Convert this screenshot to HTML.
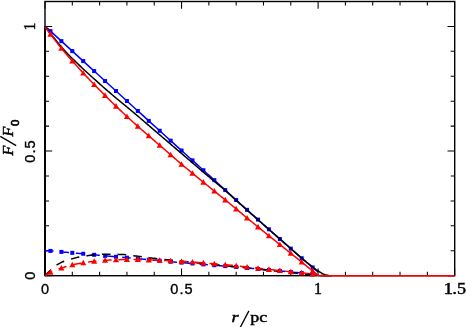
<!DOCTYPE html>
<html><head><meta charset="utf-8"><title>F/F0 vs r/pc</title>
<style>
html,body{margin:0;padding:0;background:#fff;}
body{width:466px;height:327px;overflow:hidden;font-family:"Liberation Sans",sans-serif;}
svg{display:block;filter:blur(0.3px);}
</style></head><body>
<svg width="466" height="327" viewBox="0 0 466 327">
<rect x="45.0" y="1.5" width="409.7" height="274.2" fill="none" stroke="#000" stroke-width="1.4"/>
<path d="M45.00,275.7 v-7.2 M45.00,1.5 v7.2 M72.31,275.7 v-4.0 M72.31,1.5 v4.0 M99.62,275.7 v-4.0 M99.62,1.5 v4.0 M126.93,275.7 v-4.0 M126.93,1.5 v4.0 M154.24,275.7 v-4.0 M154.24,1.5 v4.0 M181.55,275.7 v-7.2 M181.55,1.5 v7.2 M208.86,275.7 v-4.0 M208.86,1.5 v4.0 M236.17,275.7 v-4.0 M236.17,1.5 v4.0 M263.48,275.7 v-4.0 M263.48,1.5 v4.0 M290.79,275.7 v-4.0 M290.79,1.5 v4.0 M318.10,275.7 v-7.2 M318.10,1.5 v7.2 M345.41,275.7 v-4.0 M345.41,1.5 v4.0 M372.72,275.7 v-4.0 M372.72,1.5 v4.0 M400.03,275.7 v-4.0 M400.03,1.5 v4.0 M427.34,275.7 v-4.0 M427.34,1.5 v4.0 M454.65,275.7 v-7.2 M454.65,1.5 v7.2 M45.0,275.70 h7.2 M454.7,275.70 h-7.2 M45.0,250.77 h4.0 M454.7,250.77 h-4.0 M45.0,225.84 h4.0 M454.7,225.84 h-4.0 M45.0,200.91 h4.0 M454.7,200.91 h-4.0 M45.0,175.98 h4.0 M454.7,175.98 h-4.0 M45.0,151.05 h7.2 M454.7,151.05 h-7.2 M45.0,126.12 h4.0 M454.7,126.12 h-4.0 M45.0,101.19 h4.0 M454.7,101.19 h-4.0 M45.0,76.26 h4.0 M454.7,76.26 h-4.0 M45.0,51.33 h4.0 M454.7,51.33 h-4.0 M45.0,26.40 h7.2 M454.7,26.40 h-7.2" stroke="#000" stroke-width="1.05" fill="none"/>
<line x1="45.0" y1="26.4" x2="45.0" y2="275.7" stroke="#000" stroke-width="1.9"/>
<polyline points="45.00,26.15 46.37,27.40 47.73,28.65 49.10,29.90 50.46,31.15 51.83,32.39 53.19,33.64 54.56,34.89 55.92,36.14 57.29,37.39 58.66,38.64 60.02,39.88 61.39,41.13 62.75,42.38 64.12,43.63 65.48,44.88 66.85,46.12 68.21,47.37 69.58,48.62 70.94,49.87 72.31,51.12 73.68,52.36 75.04,53.61 76.41,54.86 77.77,56.11 79.14,57.35 80.50,58.60 81.87,59.85 83.23,61.09 84.60,62.34 85.97,63.59 87.33,64.84 88.70,66.08 90.06,67.33 91.43,68.58 92.79,69.82 94.16,71.07 95.52,72.32 96.89,73.57 98.25,74.81 99.62,76.06 100.99,77.31 102.35,78.55 103.72,79.80 105.08,81.05 106.45,82.29 107.81,83.54 109.18,84.79 110.54,86.03 111.91,87.28 113.28,88.53 114.64,89.77 116.01,91.02 117.37,92.26 118.74,93.51 120.10,94.76 121.47,96.00 122.83,97.25 124.20,98.50 125.56,99.74 126.93,100.99 128.30,102.24 129.66,103.48 131.03,104.73 132.39,105.97 133.76,107.22 135.12,108.46 136.49,109.70 137.85,110.94 139.22,112.19 140.59,113.43 141.95,114.67 143.32,115.91 144.68,117.15 146.05,118.39 147.41,119.63 148.78,120.87 150.14,122.11 151.51,123.35 152.87,124.58 154.24,125.82 155.61,127.06 156.97,128.30 158.34,129.54 159.70,130.77 161.07,132.01 162.43,133.25 163.80,134.48 165.16,135.72 166.53,136.96 167.90,138.19 169.26,139.43 170.63,140.66 171.99,141.90 173.36,143.14 174.72,144.37 176.09,145.61 177.45,146.84 178.82,148.08 180.18,149.32 181.55,150.55 182.92,151.79 184.28,153.02 185.65,154.25 187.01,155.48 188.38,156.72 189.74,157.94 191.11,159.17 192.47,160.40 193.84,161.63 195.21,162.86 196.57,164.09 197.94,165.32 199.30,166.55 200.67,167.78 202.03,169.01 203.40,170.24 204.76,171.47 206.13,172.71 207.49,173.94 208.86,175.18 210.23,176.42 211.59,177.66 212.96,178.90 214.32,180.14 215.69,181.39 217.05,182.63 218.42,183.87 219.78,185.11 221.15,186.36 222.52,187.60 223.88,188.84 225.25,190.09 226.61,191.33 227.98,192.57 229.34,193.81 230.71,195.05 232.07,196.29 233.44,197.53 234.80,198.77 236.17,200.01 237.54,201.25 238.90,202.48 240.27,203.72 241.63,204.94 243.00,206.17 244.36,207.40 245.73,208.62 247.09,209.84 248.46,211.06 249.83,212.28 251.19,213.50 252.56,214.72 253.92,215.93 255.29,217.15 256.65,218.36 258.02,219.58 259.38,220.80 260.75,222.01 262.11,223.23 263.48,224.44 264.85,225.66 266.21,226.88 267.58,228.09 268.94,229.31 270.31,230.52 271.67,231.73 273.04,232.94 274.40,234.16 275.77,235.37 277.13,236.58 278.50,237.79 279.87,239.00 281.23,240.20 282.60,241.41 283.96,242.62 285.33,243.83 286.69,245.03 288.06,246.24 289.42,247.45 290.79,248.65 292.16,249.86 293.52,251.06 294.89,252.27 296.25,253.47 297.62,254.67 298.98,255.87 300.35,257.06 301.71,258.25 303.08,259.43 304.45,260.59 305.81,261.74 307.18,262.89 308.54,264.04 309.91,265.18 311.27,266.32 312.64,267.47 314.00,268.63 315.37,269.78 316.73,270.93 318.10,272.09" fill="none" stroke="#0000ff" stroke-width="1.5" stroke-linejoin="round"/>
<rect x="48.46" y="29.15" width="4.0" height="4.0" fill="#0000ff"/>
<rect x="59.39" y="39.13" width="4.0" height="4.0" fill="#0000ff"/>
<rect x="70.31" y="49.12" width="4.0" height="4.0" fill="#0000ff"/>
<rect x="81.23" y="59.09" width="4.0" height="4.0" fill="#0000ff"/>
<rect x="92.16" y="69.07" width="4.0" height="4.0" fill="#0000ff"/>
<rect x="103.08" y="79.05" width="4.0" height="4.0" fill="#0000ff"/>
<rect x="114.01" y="89.02" width="4.0" height="4.0" fill="#0000ff"/>
<rect x="124.93" y="98.99" width="4.0" height="4.0" fill="#0000ff"/>
<rect x="135.85" y="108.94" width="4.0" height="4.0" fill="#0000ff"/>
<rect x="146.78" y="118.87" width="4.0" height="4.0" fill="#0000ff"/>
<rect x="157.70" y="128.77" width="4.0" height="4.0" fill="#0000ff"/>
<rect x="168.63" y="138.66" width="4.0" height="4.0" fill="#0000ff"/>
<rect x="179.55" y="148.55" width="4.0" height="4.0" fill="#0000ff"/>
<rect x="190.47" y="158.40" width="4.0" height="4.0" fill="#0000ff"/>
<rect x="201.40" y="168.24" width="4.0" height="4.0" fill="#0000ff"/>
<rect x="212.32" y="178.14" width="4.0" height="4.0" fill="#0000ff"/>
<rect x="223.25" y="188.09" width="4.0" height="4.0" fill="#0000ff"/>
<rect x="234.17" y="198.01" width="4.0" height="4.0" fill="#0000ff"/>
<rect x="245.09" y="207.84" width="4.0" height="4.0" fill="#0000ff"/>
<rect x="256.02" y="217.58" width="4.0" height="4.0" fill="#0000ff"/>
<rect x="266.94" y="227.31" width="4.0" height="4.0" fill="#0000ff"/>
<rect x="277.87" y="237.00" width="4.0" height="4.0" fill="#0000ff"/>
<rect x="288.79" y="246.65" width="4.0" height="4.0" fill="#0000ff"/>
<rect x="299.71" y="256.25" width="4.0" height="4.0" fill="#0000ff"/>
<rect x="310.64" y="265.47" width="4.0" height="4.0" fill="#0000ff"/>
<polyline points="45.00,250.60 46.37,250.66 47.73,250.73 49.10,250.81 50.46,250.89 51.83,250.99 53.19,251.11 54.56,251.23 55.92,251.36 57.29,251.50 58.66,251.63 60.02,251.77 61.39,251.89 62.75,252.01 64.12,252.13 65.48,252.25 66.85,252.37 68.21,252.49 69.58,252.61 70.94,252.72 72.31,252.84 73.68,252.95 75.04,253.07 76.41,253.18 77.77,253.29 79.14,253.41 80.50,253.52 81.87,253.64 83.23,253.76 84.60,253.89 85.97,254.01 87.33,254.14 88.70,254.28 90.06,254.41 91.43,254.54 92.79,254.68 94.16,254.81 95.52,254.94 96.89,255.08 98.25,255.22 99.62,255.36 100.99,255.49 102.35,255.63 103.72,255.76 105.08,255.88 106.45,256.00 107.81,256.11 109.18,256.22 110.54,256.32 111.91,256.43 113.28,256.53 114.64,256.64 116.01,256.75 117.37,256.87 118.74,256.98 120.10,257.10 121.47,257.22 122.83,257.34 124.20,257.46 125.56,257.58 126.93,257.70 128.30,257.82 129.66,257.95 131.03,258.07 132.39,258.19 133.76,258.32 135.12,258.44 136.49,258.57 137.85,258.70 139.22,258.83 140.59,258.96 141.95,259.09 143.32,259.22 144.68,259.35 146.05,259.49 147.41,259.62 148.78,259.74 150.14,259.87 151.51,260.00 152.87,260.12 154.24,260.25 155.61,260.37 156.97,260.49 158.34,260.62 159.70,260.74 161.07,260.87 162.43,260.99 163.80,261.12 165.16,261.25 166.53,261.37 167.90,261.50 169.26,261.62 170.63,261.74 171.99,261.85 173.36,261.97 174.72,262.07 176.09,262.18 177.45,262.29 178.82,262.40 180.18,262.50 181.55,262.61 182.92,262.72 184.28,262.83 185.65,262.94 187.01,263.05 188.38,263.16 189.74,263.27 191.11,263.38 192.47,263.48 193.84,263.59 195.21,263.70 196.57,263.81 197.94,263.92 199.30,264.03 200.67,264.14 202.03,264.25 203.40,264.36 204.76,264.47 206.13,264.57 207.49,264.68 208.86,264.79 210.23,264.90 211.59,265.01 212.96,265.12 214.32,265.23 215.69,265.34 217.05,265.45 218.42,265.56 219.78,265.67 221.15,265.77 222.52,265.88 223.88,265.99 225.25,266.10 226.61,266.21 227.98,266.32 229.34,266.42 230.71,266.53 232.07,266.64 233.44,266.75 234.80,266.86 236.17,266.97 237.54,267.09 238.90,267.21 240.27,267.34 241.63,267.46 243.00,267.59 244.36,267.72 245.73,267.85 247.09,267.97 248.46,268.10 249.83,268.22 251.19,268.35 252.56,268.47 253.92,268.59 255.29,268.72 256.65,268.84 258.02,268.97 259.38,269.09 260.75,269.22 262.11,269.34 263.48,269.47 264.85,269.59 266.21,269.72 267.58,269.84 268.94,269.97 270.31,270.09 271.67,270.21 273.04,270.34 274.40,270.46 275.77,270.59 277.13,270.71 278.50,270.84 279.87,270.96 281.23,271.09 282.60,271.22 283.96,271.35 285.33,271.49 286.69,271.62 288.06,271.75 289.42,271.88 290.79,272.01 292.16,272.14 293.52,272.26 294.89,272.38 296.25,272.50 297.62,272.62 298.98,272.74 300.35,272.87 301.71,273.01 303.08,273.15 304.45,273.29 305.81,273.43 307.18,273.58 308.54,273.73 309.91,273.89 311.27,274.07 312.64,274.25 314.00,274.46 315.37,274.69 316.73,274.94 318.10,275.20" fill="none" stroke="#0000ff" stroke-width="1.5" stroke-linejoin="round" stroke-dasharray="8.5 7"/>
<rect x="48.46" y="248.89" width="4.0" height="4.0" fill="#0000ff"/>
<rect x="59.39" y="249.89" width="4.0" height="4.0" fill="#0000ff"/>
<rect x="70.31" y="250.84" width="4.0" height="4.0" fill="#0000ff"/>
<rect x="81.23" y="251.76" width="4.0" height="4.0" fill="#0000ff"/>
<rect x="92.16" y="252.81" width="4.0" height="4.0" fill="#0000ff"/>
<rect x="103.08" y="253.88" width="4.0" height="4.0" fill="#0000ff"/>
<rect x="114.01" y="254.75" width="4.0" height="4.0" fill="#0000ff"/>
<rect x="124.93" y="255.70" width="4.0" height="4.0" fill="#0000ff"/>
<rect x="135.85" y="256.70" width="4.0" height="4.0" fill="#0000ff"/>
<rect x="146.78" y="257.74" width="4.0" height="4.0" fill="#0000ff"/>
<rect x="157.70" y="258.74" width="4.0" height="4.0" fill="#0000ff"/>
<rect x="168.63" y="259.74" width="4.0" height="4.0" fill="#0000ff"/>
<rect x="179.55" y="260.61" width="4.0" height="4.0" fill="#0000ff"/>
<rect x="190.47" y="261.48" width="4.0" height="4.0" fill="#0000ff"/>
<rect x="201.40" y="262.36" width="4.0" height="4.0" fill="#0000ff"/>
<rect x="212.32" y="263.23" width="4.0" height="4.0" fill="#0000ff"/>
<rect x="223.25" y="264.10" width="4.0" height="4.0" fill="#0000ff"/>
<rect x="234.17" y="264.97" width="4.0" height="4.0" fill="#0000ff"/>
<rect x="245.09" y="265.97" width="4.0" height="4.0" fill="#0000ff"/>
<rect x="256.02" y="266.97" width="4.0" height="4.0" fill="#0000ff"/>
<rect x="266.94" y="267.97" width="4.0" height="4.0" fill="#0000ff"/>
<rect x="277.87" y="268.96" width="4.0" height="4.0" fill="#0000ff"/>
<rect x="288.79" y="270.01" width="4.0" height="4.0" fill="#0000ff"/>
<rect x="299.71" y="271.01" width="4.0" height="4.0" fill="#0000ff"/>
<rect x="310.64" y="272.25" width="4.0" height="4.0" fill="#0000ff"/>
<polyline points="45.00,26.40 46.37,28.18 47.73,29.95 49.10,31.70 50.46,33.44 51.83,35.16 53.19,36.87 54.56,38.57 55.92,40.27 57.29,41.95 58.66,43.61 60.02,45.25 61.39,46.84 62.75,48.41 64.12,49.95 65.48,51.46 66.85,52.94 68.21,54.40 69.58,55.82 70.94,57.19 72.31,58.52 73.68,59.83 75.04,61.13 76.41,62.45 77.77,63.78 79.14,65.10 80.50,66.41 81.87,67.71 83.23,69.00 84.60,70.27 85.97,71.53 87.33,72.78 88.70,74.02 90.06,75.26 91.43,76.50 92.79,77.73 94.16,78.96 95.52,80.18 96.89,81.40 98.25,82.62 99.62,83.83 100.99,85.04 102.35,86.24 103.72,87.44 105.08,88.63 106.45,89.82 107.81,91.01 109.18,92.19 110.54,93.36 111.91,94.53 113.28,95.70 114.64,96.86 116.01,98.02 117.37,99.16 118.74,100.28 120.10,101.40 121.47,102.52 122.83,103.63 124.20,104.74 125.56,105.85 126.93,106.96 128.30,108.09 129.66,109.22 131.03,110.36 132.39,111.51 133.76,112.66 135.12,113.81 136.49,114.97 137.85,116.13 139.22,117.29 140.59,118.46 141.95,119.62 143.32,120.79 144.68,121.96 146.05,123.14 147.41,124.31 148.78,125.48 150.14,126.66 151.51,127.83 152.87,129.01 154.24,130.18 155.61,131.35 156.97,132.53 158.34,133.70 159.70,134.87 161.07,136.03 162.43,137.20 163.80,138.36 165.16,139.53 166.53,140.69 167.90,141.86 169.26,143.02 170.63,144.18 171.99,145.35 173.36,146.51 174.72,147.68 176.09,148.84 177.45,150.01 178.82,151.17 180.18,152.34 181.55,153.51 182.92,154.68 184.28,155.85 185.65,157.01 187.01,158.18 188.38,159.35 189.74,160.52 191.11,161.69 192.47,162.86 193.84,164.02 195.21,165.19 196.57,166.36 197.94,167.52 199.30,168.68 200.67,169.85 202.03,171.01 203.40,172.17 204.76,173.32 206.13,174.48 207.49,175.63 208.86,176.78 210.23,177.92 211.59,179.05 212.96,180.18 214.32,181.30 215.69,182.43 217.05,183.55 218.42,184.68 219.78,185.81 221.15,186.95 222.52,188.11 223.88,189.28 225.25,190.46 226.61,191.66 227.98,192.89 229.34,194.13 230.71,195.39 232.07,196.64 233.44,197.90 234.80,199.15 236.17,200.39 237.54,201.62 238.90,202.84 240.27,204.07 241.63,205.29 243.00,206.51 244.36,207.73 245.73,208.95 247.09,210.17 248.46,211.39 249.83,212.60 251.19,213.82 252.56,215.03 253.92,216.24 255.29,217.45 256.65,218.66 258.02,219.87 259.38,221.08 260.75,222.28 262.11,223.49 263.48,224.69 264.85,225.90 266.21,227.10 267.58,228.30 268.94,229.50 270.31,230.70 271.67,231.89 273.04,233.09 274.40,234.28 275.77,235.47 277.13,236.67 278.50,237.86 279.87,239.05 281.23,240.24 282.60,241.43 283.96,242.62 285.33,243.81 286.69,245.00 288.06,246.19 289.42,247.38 290.79,248.58 292.16,249.77 293.52,250.97 294.89,252.18 296.25,253.38 297.62,254.58 298.98,255.77 300.35,256.94 301.71,258.10 303.08,259.25 304.45,260.39 305.81,261.52 307.18,262.64 308.54,263.75 309.91,264.84 311.27,265.92 312.64,266.97 314.00,268.02 315.37,269.05 316.73,270.04 318.10,270.96 319.47,271.85 320.83,272.70 322.20,273.45 323.56,274.07 324.93,274.64 326.29,275.10 327.66,275.36 329.02,275.53 330.39,275.65 331.76,275.70" fill="none" stroke="#000000" stroke-width="1.5" stroke-linejoin="round"/>
<polyline points="45.00,275.70 46.37,274.24 47.73,272.84 49.10,271.49 50.46,270.20 51.83,268.92 53.19,267.67 54.56,266.52 55.92,265.51 57.29,264.64 58.66,263.83 60.02,263.09 61.39,262.41 62.75,261.79 64.12,261.24 65.48,260.76 66.85,260.33 68.21,259.93 69.58,259.55 70.94,259.16 72.31,258.77 73.68,258.37 75.04,257.99 76.41,257.63 77.77,257.30 79.14,257.02 80.50,256.77 81.87,256.53 83.23,256.32 84.60,256.12 85.97,255.92 87.33,255.72 88.70,255.53 90.06,255.34 91.43,255.17 92.79,255.01 94.16,254.88 95.52,254.77 96.89,254.65 98.25,254.54 99.62,254.43 100.99,254.34 102.35,254.27 103.72,254.23 105.08,254.21 106.45,254.21 107.81,254.22 109.18,254.23 110.54,254.24 111.91,254.26 113.28,254.28 114.64,254.30 116.01,254.33 117.37,254.36 118.74,254.39 120.10,254.42 121.47,254.46 122.83,254.51 124.20,254.60 125.56,254.71 126.93,254.84 128.30,254.99 129.66,255.16 131.03,255.34 132.39,255.52 133.76,255.71 135.12,255.90 136.49,256.08 137.85,256.25 139.22,256.43 140.59,256.61 141.95,256.81 143.32,257.00 144.68,257.20 146.05,257.39 147.41,257.58 148.78,257.75 150.14,257.91 151.51,258.07 152.87,258.22 154.24,258.37 155.61,258.52 156.97,258.66 158.34,258.81 159.70,258.95 161.07,259.08 162.43,259.22 163.80,259.36 165.16,259.50 166.53,259.63 167.90,259.76 169.26,259.89 170.63,260.02 171.99,260.15 173.36,260.28 174.72,260.41 176.09,260.54 177.45,260.68 178.82,260.82 180.18,260.97 181.55,261.12 182.92,261.26 184.28,261.41 185.65,261.57 187.01,261.72 188.38,261.87 189.74,262.02 191.11,262.17 192.47,262.32 193.84,262.47 195.21,262.61 196.57,262.76 197.94,262.90 199.30,263.04 200.67,263.19 202.03,263.33 203.40,263.47 204.76,263.61 206.13,263.76 207.49,263.90 208.86,264.04 210.23,264.18 211.59,264.32 212.96,264.46 214.32,264.60 215.69,264.74 217.05,264.88 218.42,265.02 219.78,265.17 221.15,265.31 222.52,265.45 223.88,265.59 225.25,265.73 226.61,265.87 227.98,266.01 229.34,266.15 230.71,266.29 232.07,266.43 233.44,266.57 234.80,266.70 236.17,266.84 237.54,266.98 238.90,267.12 240.27,267.26 241.63,267.40 243.00,267.54 244.36,267.69 245.73,267.83 247.09,267.97 248.46,268.12 249.83,268.26 251.19,268.41 252.56,268.55 253.92,268.70 255.29,268.85 256.65,269.00 258.02,269.15 259.38,269.30 260.75,269.45 262.11,269.60 263.48,269.74 264.85,269.89 266.21,270.04 267.58,270.19 268.94,270.34 270.31,270.49 271.67,270.64 273.04,270.79 274.40,270.94 275.77,271.09 277.13,271.25 278.50,271.40 279.87,271.55 281.23,271.70 282.60,271.85 283.96,272.00 285.33,272.14 286.69,272.29 288.06,272.43 289.42,272.57 290.79,272.71 292.16,272.84 293.52,272.98 294.89,273.12 296.25,273.25 297.62,273.39 298.98,273.52 300.35,273.66 301.71,273.79 303.08,273.92 304.45,274.05 305.81,274.18 307.18,274.31 308.54,274.43 309.91,274.55 311.27,274.67 312.64,274.78 314.00,274.89 315.37,275.00 316.73,275.10 318.10,275.20 319.47,275.29 320.83,275.38 322.20,275.47 323.56,275.55 324.93,275.63 326.29,275.70 327.66,275.77 329.02,275.84 330.39,275.91 331.76,275.98" fill="none" stroke="#000000" stroke-width="1.5" stroke-linejoin="round" stroke-dasharray="8.6 7.1"/>
<polyline points="45.00,26.90 46.37,28.71 47.73,30.53 49.10,32.33 50.46,34.13 51.83,35.93 53.19,37.74 54.56,39.56 55.92,41.36 57.29,43.15 58.66,44.92 60.02,46.65 61.39,48.34 62.75,49.99 64.12,51.62 65.48,53.23 66.85,54.82 68.21,56.40 69.58,57.96 70.94,59.51 72.31,61.05 73.68,62.58 75.04,64.10 76.41,65.61 77.77,67.11 79.14,68.60 80.50,70.08 81.87,71.55 83.23,73.02 84.60,74.48 85.97,75.93 87.33,77.38 88.70,78.82 90.06,80.25 91.43,81.67 92.79,83.08 94.16,84.49 95.52,85.88 96.89,87.26 98.25,88.64 99.62,90.01 100.99,91.38 102.35,92.74 103.72,94.10 105.08,95.46 106.45,96.81 107.81,98.16 109.18,99.51 110.54,100.86 111.91,102.20 113.28,103.54 114.64,104.86 116.01,106.18 117.37,107.49 118.74,108.80 120.10,110.11 121.47,111.41 122.83,112.71 124.20,113.99 125.56,115.27 126.93,116.52 128.30,117.77 129.66,119.00 131.03,120.24 132.39,121.47 133.76,122.70 135.12,123.92 136.49,125.15 137.85,126.37 139.22,127.58 140.59,128.78 141.95,129.97 143.32,131.14 144.68,132.32 146.05,133.49 147.41,134.66 148.78,135.84 150.14,137.03 151.51,138.21 152.87,139.40 154.24,140.58 155.61,141.76 156.97,142.95 158.34,144.13 159.70,145.32 161.07,146.50 162.43,147.68 163.80,148.87 165.16,150.05 166.53,151.24 167.90,152.42 169.26,153.61 170.63,154.79 171.99,155.98 173.36,157.17 174.72,158.36 176.09,159.55 177.45,160.73 178.82,161.92 180.18,163.09 181.55,164.26 182.92,165.42 184.28,166.55 185.65,167.68 187.01,168.79 188.38,169.90 189.74,171.01 191.11,172.12 192.47,173.24 193.84,174.36 195.21,175.48 196.57,176.61 197.94,177.73 199.30,178.86 200.67,179.98 202.03,181.10 203.40,182.21 204.76,183.33 206.13,184.43 207.49,185.54 208.86,186.65 210.23,187.75 211.59,188.85 212.96,189.96 214.32,191.06 215.69,192.17 217.05,193.27 218.42,194.38 219.78,195.48 221.15,196.58 222.52,197.69 223.88,198.80 225.25,199.91 226.61,201.03 227.98,202.15 229.34,203.26 230.71,204.38 232.07,205.51 233.44,206.63 234.80,207.76 236.17,208.89 237.54,210.02 238.90,211.16 240.27,212.30 241.63,213.44 243.00,214.58 244.36,215.72 245.73,216.85 247.09,217.99 248.46,219.12 249.83,220.24 251.19,221.37 252.56,222.49 253.92,223.61 255.29,224.73 256.65,225.85 258.02,226.96 259.38,228.08 260.75,229.19 262.11,230.30 263.48,231.40 264.85,232.51 266.21,233.61 267.58,234.71 268.94,235.81 270.31,236.91 271.67,238.00 273.04,239.09 274.40,240.18 275.77,241.27 277.13,242.36 278.50,243.45 279.87,244.54 281.23,245.63 282.60,246.72 283.96,247.80 285.33,248.89 286.69,249.98 288.06,251.07 289.42,252.17 290.79,253.26 292.16,254.36 293.52,255.47 294.89,256.57 296.25,257.68 297.62,258.79 298.98,259.90 300.35,261.01 301.71,262.11 303.08,263.22 304.45,264.33 305.81,265.45 307.18,266.56 308.54,267.67 309.91,268.78 311.27,269.87 312.64,270.96 314.00,272.04 315.37,273.10 316.73,274.16 318.10,275.20 319.47,275.70 320.83,275.70 322.20,275.70 323.56,275.70 324.93,275.70 326.29,275.70 327.66,275.70 329.02,275.70 330.39,275.70 331.76,275.70 454.65,275.70" fill="none" stroke="#ff0000" stroke-width="1.5" stroke-linejoin="round"/>
<polygon points="50.46,31.03 47.41,36.63 53.51,36.63" fill="#ff0000"/>
<polygon points="61.39,45.24 58.34,50.84 64.44,50.84" fill="#ff0000"/>
<polygon points="72.31,57.95 69.26,63.55 75.36,63.55" fill="#ff0000"/>
<polygon points="83.23,69.92 80.18,75.52 86.28,75.52" fill="#ff0000"/>
<polygon points="94.16,81.39 91.11,86.99 97.21,86.99" fill="#ff0000"/>
<polygon points="105.08,92.36 102.03,97.96 108.13,97.96" fill="#ff0000"/>
<polygon points="116.01,103.08 112.96,108.68 119.06,108.68" fill="#ff0000"/>
<polygon points="126.93,113.42 123.88,119.02 129.98,119.02" fill="#ff0000"/>
<polygon points="137.85,123.27 134.80,128.87 140.90,128.87" fill="#ff0000"/>
<polygon points="148.78,132.74 145.73,138.34 151.83,138.34" fill="#ff0000"/>
<polygon points="159.70,142.22 156.65,147.82 162.75,147.82" fill="#ff0000"/>
<polygon points="170.63,151.69 167.58,157.29 173.68,157.29" fill="#ff0000"/>
<polygon points="181.55,161.16 178.50,166.76 184.60,166.76" fill="#ff0000"/>
<polygon points="192.47,170.14 189.42,175.74 195.52,175.74" fill="#ff0000"/>
<polygon points="203.40,179.11 200.35,184.71 206.45,184.71" fill="#ff0000"/>
<polygon points="214.32,187.96 211.27,193.56 217.37,193.56" fill="#ff0000"/>
<polygon points="225.25,196.81 222.20,202.41 228.30,202.41" fill="#ff0000"/>
<polygon points="236.17,205.79 233.12,211.39 239.22,211.39" fill="#ff0000"/>
<polygon points="247.09,214.89 244.04,220.49 250.14,220.49" fill="#ff0000"/>
<polygon points="258.02,223.86 254.97,229.46 261.07,229.46" fill="#ff0000"/>
<polygon points="268.94,232.71 265.89,238.31 271.99,238.31" fill="#ff0000"/>
<polygon points="279.87,241.44 276.82,247.04 282.92,247.04" fill="#ff0000"/>
<polygon points="290.79,250.16 287.74,255.76 293.84,255.76" fill="#ff0000"/>
<polygon points="301.71,259.01 298.66,264.61 304.76,264.61" fill="#ff0000"/>
<polygon points="312.64,267.86 309.59,273.46 315.69,273.46" fill="#ff0000"/>
<polyline points="45.00,275.70 46.37,274.77 47.73,273.88 49.10,273.06 50.46,272.33 51.83,271.69 53.19,271.09 54.56,270.53 55.92,270.01 57.29,269.51 58.66,269.02 60.02,268.56 61.39,268.10 62.75,267.64 64.12,267.19 65.48,266.75 66.85,266.33 68.21,265.92 69.58,265.54 70.94,265.18 72.31,264.86 73.68,264.56 75.04,264.28 76.41,264.01 77.77,263.76 79.14,263.53 80.50,263.30 81.87,263.08 83.23,262.86 84.60,262.65 85.97,262.44 87.33,262.24 88.70,262.05 90.06,261.86 91.43,261.69 92.79,261.52 94.16,261.37 95.52,261.22 96.89,261.08 98.25,260.94 99.62,260.81 100.99,260.69 102.35,260.58 103.72,260.47 105.08,260.37 106.45,260.27 107.81,260.18 109.18,260.09 110.54,260.00 111.91,259.92 113.28,259.85 114.64,259.79 116.01,259.74 117.37,259.71 118.74,259.67 120.10,259.64 121.47,259.61 122.83,259.58 124.20,259.56 125.56,259.55 126.93,259.55 128.30,259.55 129.66,259.55 131.03,259.56 132.39,259.57 133.76,259.58 135.12,259.59 136.49,259.61 137.85,259.62 139.22,259.64 140.59,259.67 141.95,259.71 143.32,259.76 144.68,259.81 146.05,259.86 147.41,259.90 148.78,259.94 150.14,259.98 151.51,260.02 152.87,260.05 154.24,260.08 155.61,260.12 156.97,260.16 158.34,260.20 159.70,260.24 161.07,260.30 162.43,260.35 163.80,260.42 165.16,260.49 166.53,260.56 167.90,260.64 169.26,260.71 170.63,260.79 171.99,260.87 173.36,260.96 174.72,261.05 176.09,261.14 177.45,261.23 178.82,261.32 180.18,261.41 181.55,261.49 182.92,261.57 184.28,261.64 185.65,261.71 187.01,261.78 188.38,261.85 189.74,261.93 191.11,262.01 192.47,262.09 193.84,262.18 195.21,262.27 196.57,262.37 197.94,262.48 199.30,262.59 200.67,262.69 202.03,262.80 203.40,262.91 204.76,263.02 206.13,263.13 207.49,263.24 208.86,263.35 210.23,263.47 211.59,263.58 212.96,263.69 214.32,263.81 215.69,263.92 217.05,264.04 218.42,264.15 219.78,264.26 221.15,264.38 222.52,264.49 223.88,264.61 225.25,264.73 226.61,264.85 227.98,264.97 229.34,265.09 230.71,265.20 232.07,265.33 233.44,265.45 234.80,265.59 236.17,265.73 237.54,265.88 238.90,266.04 240.27,266.22 241.63,266.40 243.00,266.58 244.36,266.76 245.73,266.93 247.09,267.10 248.46,267.26 249.83,267.41 251.19,267.56 252.56,267.71 253.92,267.86 255.29,268.01 256.65,268.15 258.02,268.30 259.38,268.44 260.75,268.57 262.11,268.71 263.48,268.84 264.85,268.98 266.21,269.11 267.58,269.25 268.94,269.39 270.31,269.54 271.67,269.68 273.04,269.83 274.40,269.98 275.77,270.13 277.13,270.29 278.50,270.44 279.87,270.59 281.23,270.74 282.60,270.90 283.96,271.06 285.33,271.21 286.69,271.37 288.06,271.52 289.42,271.67 290.79,271.81 292.16,271.94 293.52,272.07 294.89,272.19 296.25,272.31 297.62,272.42 298.98,272.55 300.35,272.67 301.71,272.81 303.08,272.95 304.45,273.09 305.81,273.24 307.18,273.39 308.54,273.55 309.91,273.72 311.27,273.90 312.64,274.10 314.00,274.34 315.37,274.60 316.73,274.89 318.10,275.20" fill="none" stroke="#ff0000" stroke-width="1.5" stroke-linejoin="round" stroke-dasharray="8.4 6.8"/>
<polygon points="50.46,269.23 47.41,274.83 53.51,274.83" fill="#ff0000"/>
<polygon points="61.39,265.00 58.34,270.60 64.44,270.60" fill="#ff0000"/>
<polygon points="72.31,261.76 69.26,267.36 75.36,267.36" fill="#ff0000"/>
<polygon points="83.23,259.76 80.18,265.36 86.28,265.36" fill="#ff0000"/>
<polygon points="94.16,258.27 91.11,263.87 97.21,263.87" fill="#ff0000"/>
<polygon points="105.08,257.27 102.03,262.87 108.13,262.87" fill="#ff0000"/>
<polygon points="116.01,256.64 112.96,262.24 119.06,262.24" fill="#ff0000"/>
<polygon points="126.93,256.45 123.88,262.05 129.98,262.05" fill="#ff0000"/>
<polygon points="137.85,256.52 134.80,262.12 140.90,262.12" fill="#ff0000"/>
<polygon points="148.78,256.84 145.73,262.44 151.83,262.44" fill="#ff0000"/>
<polygon points="159.70,257.14 156.65,262.74 162.75,262.74" fill="#ff0000"/>
<polygon points="170.63,257.69 167.58,263.29 173.68,263.29" fill="#ff0000"/>
<polygon points="181.55,258.39 178.50,263.99 184.60,263.99" fill="#ff0000"/>
<polygon points="192.47,258.99 189.42,264.59 195.52,264.59" fill="#ff0000"/>
<polygon points="203.40,259.81 200.35,265.41 206.45,265.41" fill="#ff0000"/>
<polygon points="214.32,260.71 211.27,266.31 217.37,266.31" fill="#ff0000"/>
<polygon points="225.25,261.63 222.20,267.23 228.30,267.23" fill="#ff0000"/>
<polygon points="236.17,262.63 233.12,268.23 239.22,268.23" fill="#ff0000"/>
<polygon points="247.09,264.00 244.04,269.60 250.14,269.60" fill="#ff0000"/>
<polygon points="258.02,265.20 254.97,270.80 261.07,270.80" fill="#ff0000"/>
<polygon points="268.94,266.29 265.89,271.89 271.99,271.89" fill="#ff0000"/>
<polygon points="279.87,267.49 276.82,273.09 282.92,273.09" fill="#ff0000"/>
<polygon points="290.79,268.71 287.74,274.31 293.84,274.31" fill="#ff0000"/>
<polygon points="301.71,269.71 298.66,275.31 304.76,275.31" fill="#ff0000"/>
<polygon points="312.64,271.00 309.59,276.60 315.69,276.60" fill="#ff0000"/>
<text x="45" y="293.7" font-family="Liberation Sans, sans-serif" stroke="#000" stroke-width="0.35" font-size="14.5" text-anchor="middle">0</text>
<text x="181.9" y="293.7" font-family="Liberation Sans, sans-serif" stroke="#000" stroke-width="0.35" font-size="14.5" text-anchor="middle" letter-spacing="1.0">0.5</text>
<g transform="translate(317.9,293.5) scale(0.98,1)"><text x="0" y="0" font-family="Liberation Serif, serif" stroke="#000" stroke-width="0.45" font-size="16.2" text-anchor="middle">1</text></g>
<g transform="translate(448.3,293.5) scale(1.18,1)"><text x="0" y="0" font-family="Liberation Serif, serif" stroke="#000" stroke-width="0.45" font-size="16.2" text-anchor="middle">1</text></g>
<g transform="translate(454.7,293.5) scale(1.2,1)"><text x="0" y="0" font-family="Liberation Serif, serif" stroke="#000" stroke-width="0.45" font-size="16.2" text-anchor="middle">.</text></g>
<g transform="translate(461.5,293.5) scale(1.12,1)"><text x="0" y="0" font-family="Liberation Serif, serif" stroke="#000" stroke-width="0.45" font-size="16.2" text-anchor="middle">5</text></g>
<text transform="translate(35,275.7) rotate(-90)" font-family="Liberation Sans, sans-serif" stroke="#000" stroke-width="0.35" font-size="14.5" text-anchor="middle">0</text>
<text transform="translate(35,151.1) rotate(-90)" font-family="Liberation Sans, sans-serif" stroke="#000" stroke-width="0.35" font-size="14.5" text-anchor="middle" letter-spacing="1.0">0.5</text>
<g transform="translate(35,26.6) rotate(-90) scale(0.98,1)"><text x="0" y="0" font-family="Liberation Serif, serif" stroke="#000" stroke-width="0.45" font-size="16.2" text-anchor="middle">1</text></g>
<g transform="translate(231.5,322.1) scale(1.22,1)"><text x="0" y="0" font-family="Liberation Serif, serif" stroke="#000" stroke-width="0.45" font-size="15" font-style="italic">r</text></g>
<line x1="240.2" y1="327.5" x2="248.9" y2="310.9" stroke="#000" stroke-width="1.3"/>
<g transform="translate(250.2,322.2) scale(1.2,1)"><text x="0" y="0" font-family="Liberation Serif, serif" stroke="#000" stroke-width="0.45" font-size="15">pc</text></g>
<g transform="translate(12.8,155.5) rotate(-90) scale(1.1,1)"><text x="0" y="0" font-family="Liberation Serif, serif" stroke="#000" stroke-width="0.45" font-size="14.5" font-style="italic">F</text></g>
<line x1="16.2" y1="145.6" x2="0.3" y2="136.3" stroke="#000" stroke-width="1.3"/>
<g transform="translate(12.8,136.5) rotate(-90) scale(1.1,1)"><text x="0" y="0" font-family="Liberation Serif, serif" stroke="#000" stroke-width="0.45" font-size="14.5" font-style="italic">F</text></g>
<text transform="translate(19.2,126) rotate(-90)" font-family="Liberation Sans, sans-serif" stroke="#000" stroke-width="0.7" font-size="11.5">0</text>
</svg>
</body></html>
